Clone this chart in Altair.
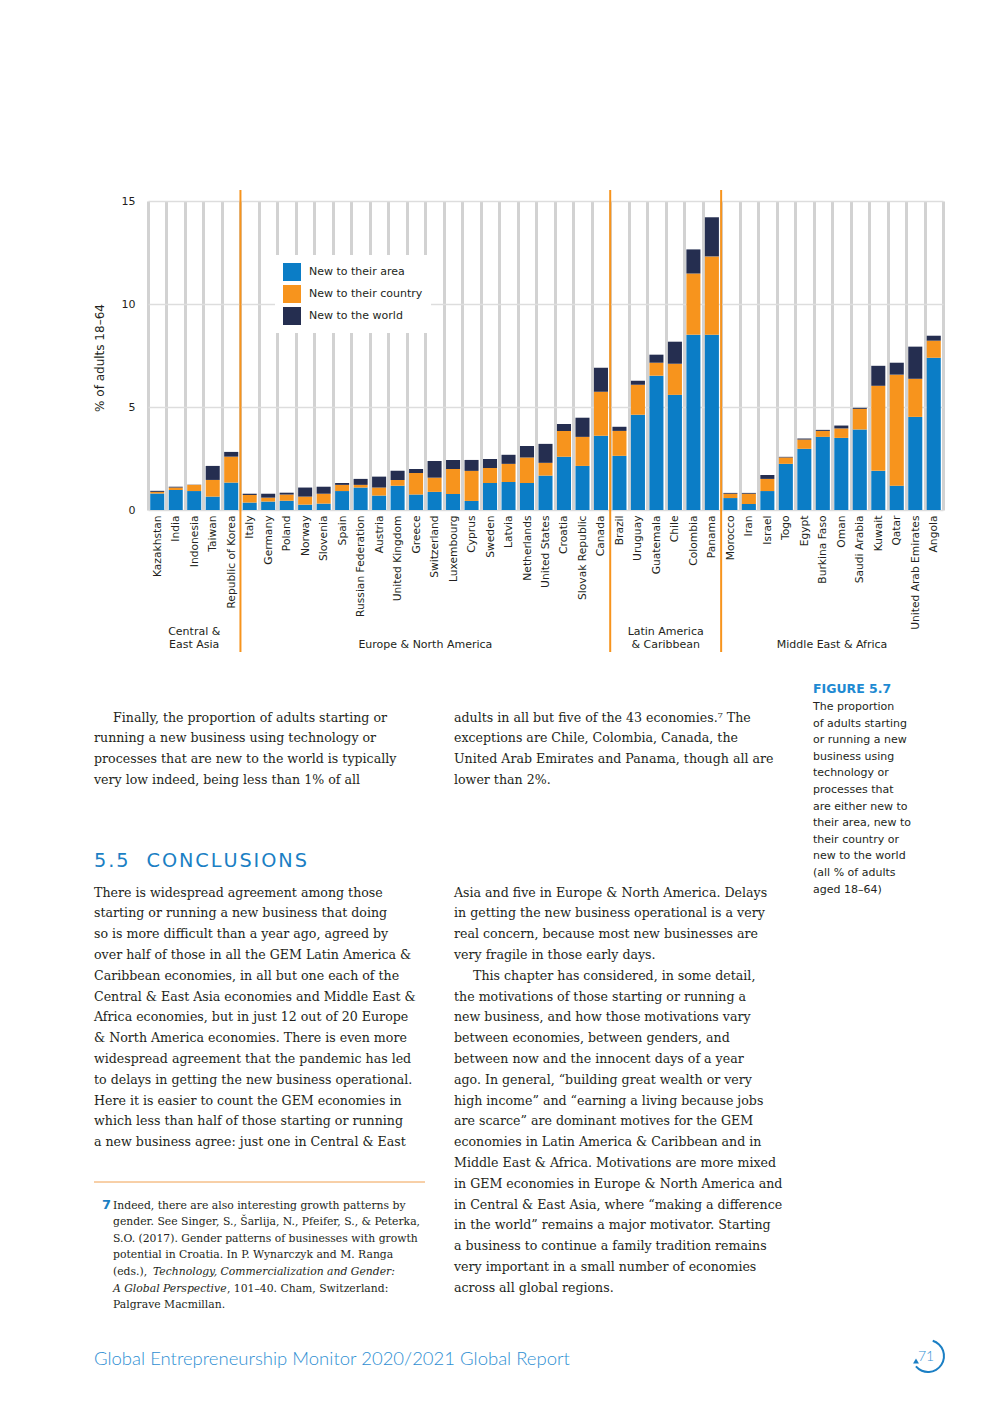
import altair as alt
import pandas as pd

# ---------------- data ----------------
countries = [
    "Kazakhstan", "India", "Indonesia", "Taiwan", "Republic of Korea",
    "Italy", "Germany", "Poland", "Norway", "Slovenia", "Spain", "Russian Federation",
    "Austria", "United Kingdom", "Greece", "Switzerland", "Luxembourg", "Cyprus",
    "Sweden", "Latvia", "Netherlands", "United States", "Croatia", "Slovak Republic", "Canada",
    "Brazil", "Uruguay", "Guatemala", "Chile", "Colombia", "Panama",
    "Morocco", "Iran", "Israel", "Togo", "Egypt", "Burkina Faso", "Oman", "Saudi Arabia",
    "Kuwait", "Qatar", "United Arab Emirates", "Angola",
]
regions = ["Central &\nEast Asia", "Europe & North America", "Latin America\n& Caribbean", "Middle East & Africa"]
region_sizes = [5, 20, 6, 12]
series = ["New to their area", "New to their country", "New to the world"]
new_area = [0.80, 0.97, 0.92, 0.65, 1.33,
            0.36, 0.41, 0.45, 0.26, 0.31, 0.92, 1.09, 0.70, 1.18, 0.75, 0.88, 0.78, 0.44,
            1.31, 1.36, 1.31, 1.67, 2.58, 2.14, 3.60,
            2.63, 4.62, 6.52, 5.59, 8.51, 8.51,
            0.58, 0.29, 0.92, 2.24, 2.97, 3.55, 3.50, 3.91, 1.90, 1.18, 4.52, 7.39]
new_country = [0.08, 0.12, 0.30, 0.81, 1.26,
               0.37, 0.19, 0.30, 0.39, 0.48, 0.30, 0.13, 0.39, 0.28, 1.05, 0.69, 1.21, 1.46,
               0.73, 0.88, 1.24, 0.62, 1.26, 1.41, 2.14,
               1.21, 1.46, 0.63, 1.51, 2.97, 3.80,
               0.21, 0.50, 0.59, 0.31, 0.45, 0.29, 0.46, 1.00, 4.13, 5.39, 1.85, 0.83]
new_world = [0.05, 0.04, 0.01, 0.68, 0.23,
             0.06, 0.19, 0.09, 0.44, 0.34, 0.09, 0.29, 0.53, 0.44, 0.19, 0.81, 0.44, 0.53,
             0.44, 0.44, 0.56, 0.92, 0.34, 0.93, 1.17,
             0.20, 0.20, 0.39, 1.07, 1.17, 1.90,
             0.04, 0.04, 0.19, 0.03, 0.05, 0.05, 0.14, 0.05, 0.97, 0.58, 1.56, 0.24]
y_ticks = [0, 5, 10, 15]
y_title = "% of adults 18–64"

caption_head = "FIGURE 5.7"
caption_lines = ["The proportion", "of adults starting", "or running a new", "business using",
                 "technology or", "processes that", "are either new to", "their area, new to",
                 "their country or", "new to the world", "(all % of adults", "aged 18–64)"]

p1a_first = "Finally, the proportion of adults starting or"
p1a_rest = ["running a new business using technology or",
            "processes that are new to the world is typically",
            "very low indeed, being less than 1% of all"]
p1b = ["adults in all but five of the 43 economies.⁷ The",
       "exceptions are Chile, Colombia, Canada, the",
       "United Arab Emirates and Panama, though all are",
       "lower than 2%."]
heading = "5.5  CONCLUSIONS"
p2a = ["There is widespread agreement among those",
       "starting or running a new business that doing",
       "so is more difficult than a year ago, agreed by",
       "over half of those in all the GEM Latin America &",
       "Caribbean economies, in all but one each of the",
       "Central & East Asia economies and Middle East &",
       "Africa economies, but in just 12 out of 20 Europe",
       "& North America economies. There is even more",
       "widespread agreement that the pandemic has led",
       "to delays in getting the new business operational.",
       "Here it is easier to count the GEM economies in",
       "which less than half of those starting or running",
       "a new business agree: just one in Central & East"]
p2b_top = ["Asia and five in Europe & North America. Delays",
           "in getting the new business operational is a very",
           "real concern, because most new businesses are",
           "very fragile in those early days."]
p3b_first = "This chapter has considered, in some detail,"
p3b_rest = ["the motivations of those starting or running a",
            "new business, and how those motivations vary",
            "between economies, between genders, and",
            "between now and the innocent days of a year",
            "ago. In general, “building great wealth or very",
            "high income” and “earning a living because jobs",
            "are scarce” are dominant motives for the GEM",
            "economies in Latin America & Caribbean and in",
            "Middle East & Africa. Motivations are more mixed",
            "in GEM economies in Europe & North America and",
            "in Central & East Asia, where “making a difference",
            "in the world” remains a major motivator. Starting",
            "a business to continue a family tradition remains",
            "very important in a small number of economies",
            "across all global regions."]
fn_num = "7"
fn_lines = ["Indeed, there are also interesting growth patterns by",
            "gender. See Singer, S., Šarlija, N., Pfeifer, S., & Peterka,",
            "S.O. (2017). Gender patterns of businesses with growth",
            "potential in Croatia. In P. Wynarczyk and M. Ranga"]
fn_l5a = "(eds.),"
fn_l5b = "Technology, Commercialization and Gender:"
fn_l6a = "A Global Perspective"
fn_l6b = ", 101–40. Cham, Switzerland:"
fn_l7 = "Palgrave Macmillan."
footer = "Global Entrepreneurship Monitor 2020/2021 Global Report"
page_no = "71"

# ---------------- styling ----------------
BLUE, ORANGE, NAVY = "#0b7dc6", "#f7941d", "#252e50"
SANS = "DejaVu Sans"
SERIF = "DejaVu Serif"
TXT = "#231f20"

rows = []
for i, c in enumerate(countries):
    for k, (s, vals) in enumerate(zip(series, [new_area, new_country, new_world])):
        rows.append({"country": c, "series": s, "value": vals[i], "ord": k})
df = pd.DataFrame(rows)

W, H = 795, 309
OX, OY = 148, 201  # page position of the plot origin
step = W / len(countries)

xscale = alt.Scale(domain=countries, paddingInner=0, paddingOuter=0)
xaxis = alt.Axis(title=None, tickBand="extent", grid=True, gridColor="#d2d2d2", gridWidth=3,
                 ticks=False, domain=False, labelAngle=270, labelPadding=5,
                 labelFontSize=10.7, labelColor=TXT, labelFont=SANS)

bars = alt.Chart(df).mark_bar(width=alt.RelativeBandSize(0.76)).encode(
    x=alt.X("country:N", scale=xscale, axis=xaxis),
    y=alt.Y("value:Q", stack="zero", scale=alt.Scale(domain=[0, 15], nice=False),
            axis=alt.Axis(title=None, values=y_ticks, grid=True, gridColor="#dddddd",
                          gridWidth=1.5, ticks=False, domain=False, labelPadding=13,
                          labelFontSize=11, labelColor=TXT, labelFont=SANS)),
    color=alt.Color("series:N", scale=alt.Scale(domain=series, range=[BLUE, ORANGE, NAVY]),
                    legend=alt.Legend(title=None, orient="none", legendX=127, legendY=54,
                                      fillColor="white", padding=8, symbolType="square",
                                      symbolSize=324, symbolStrokeWidth=0, labelFontSize=11,
                                      labelFont=SANS, labelColor=TXT, rowPadding=4,
                                      labelOffset=8)),
    order=alt.Order("ord:Q", sort="ascending"),
)

starts = []
idx = 0
for n in region_sizes:
    starts.append(idx)
    idx += n
sep_df = pd.DataFrame({"country": [countries[s] for s in starts[1:]]})
seps = alt.Chart(sep_df).mark_rule(color=ORANGE, strokeWidth=2).encode(
    x=alt.X("country:N", bandPosition=0, scale=xscale, axis=xaxis),
    y=alt.value(-11), y2=alt.value(451),
)

one = pd.DataFrame({"k": [0]})


def block(lines, x, y, size, lh=16, font=SERIF, color=TXT, weight="normal", style="normal",
          align="left", angle=0, baseline="alphabetic"):
    return alt.Chart(one).mark_text(
        text=lines, align=align, baseline=baseline, font=font, fontSize=size, lineHeight=lh,
        color=color, fontWeight=weight, fontStyle=style, angle=angle,
    ).encode(x=alt.value(x - OX), y=alt.value(y - OY))


layers = [bars, seps]

# region labels, centred on their group of bars, last line on a common baseline
for name, s, n in zip(regions, starts, region_sizes):
    lines = name.split("\n")
    layers.append(alt.Chart(one).mark_text(
        text=lines, align="center", baseline="alphabetic", font=SANS,
        fontSize=11, lineHeight=13, color=TXT,
    ).encode(x=alt.value(step * (s + n / 2)), y=alt.value(447 - 13 * (len(lines) - 1))))

# axis title
layers.append(block(y_title, 100, 358, 12, font=SANS, align="center", angle=270, baseline="middle"))

# caption
layers.append(block(caption_head, 813, 692.5, 12.5, font=SANS, color="#1e8ad2", weight="bold"))
layers.append(block(caption_lines, 813, 710, 11, lh=16.6, font=SANS))

# body text
LH = 20.8
BS = 12.6
layers.append(block(p1a_first, 113, 721.5, BS, lh=LH))
layers.append(block(p1a_rest, 94, 721.5 + LH, BS, lh=LH))
layers.append(block(p1b, 454, 721.5, BS, lh=LH))
layers.append(block(heading.replace("", "\u200a").strip("\u200a"), 94, 867, 19.3, font=SANS, color="#1b7fc4"))
layers.append(block(p2a, 94, 896.5, BS, lh=LH))
layers.append(block(p2b_top, 454, 896.5, BS, lh=LH))
layers.append(block(p3b_first, 473, 896.5 + 4 * LH, BS, lh=LH))
layers.append(block(p3b_rest, 454, 896.5 + 5 * LH, BS, lh=LH))

# footnote
layers.append(alt.Chart(one).mark_rule(color="#f0a050", strokeWidth=1).encode(
    x=alt.value(94 - OX), x2=alt.value(425 - OX), y=alt.value(1182 - OY)))
FLH = 16.6
FS = 10.8
layers.append(block(fn_num, 102, 1209, 13, font=SANS, color="#1b7fc4", weight="bold"))
layers.append(block(fn_lines, 113, 1208.5, FS, lh=FLH))
layers.append(block(fn_l5a, 113, 1208.5 + 4 * FLH, FS))
layers.append(block(fn_l5b, 153, 1208.5 + 4 * FLH, FS, style="italic"))
layers.append(block(fn_l6a, 113, 1208.5 + 5 * FLH, FS, style="italic"))
layers.append(block(fn_l6b, 227, 1208.5 + 5 * FLH, FS))
layers.append(block(fn_l7, 113, 1208.5 + 6 * FLH, FS))

# footer
layers.append(block(footer, 94, 1365, 18.5, font="Lato", color="#2f8fd3", weight=300))
layers.append(block(page_no, 926, 1361, 14, font="Lato", color="#2f8fd3", weight=300, align="center"))
layers.append(alt.Chart(one).mark_arc(radius=17, radius2=15, theta=0.3, theta2=4.0, color="#1b7fc4").encode(
    x=alt.value(928 - OX), y=alt.value(1356 - OY)))
layers.append(alt.Chart(one).mark_point(shape="triangle-up", filled=True, size=35, color="#1b7fc4", opacity=1).encode(
    x=alt.value(916 - OX), y=alt.value(1361 - OY)))

chart = alt.layer(*layers).properties(
    width=W, height=H,
    autosize=alt.AutoSizeParams(type="none"),
    padding={"left": OX - 8, "top": OY - 8, "right": 976 - (OX - 8) - W, "bottom": 1387 - (OY - 8) - H},
).configure_view(stroke=None)

chart.save("out.html", embed_options={"renderer": "svg", "actions": False})
